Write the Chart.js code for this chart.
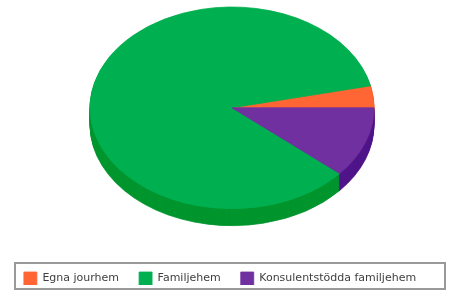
<!DOCTYPE html>
<html>
<head>
<meta charset="utf-8">
<script src="https://cdn.jsdelivr.net/npm/chart.js@4/dist/chart.umd.min.js"></script>
<style>
  html, body { margin: 0; padding: 0; background: #ffffff; }
  #wrap { width: 452px; height: 291px; position: relative; }
</style>
</head>
<body>
<div id="wrap"><canvas id="c" width="452" height="291"></canvas></div>
<script>
// ---- data ----
const categories = ["Egna jourhem", "Familjehem", "Konsulentstödda familjehem"];
const shares = [3.5, 85.2, 11.3];

// ---- styles ----
const topColors  = ["#ff6633", "#00b050", "#7030a0"];
const sideColors = ["#cc4d22", "#00952d", "#4f1489"];

const pie3d = {
  id: 'pie3d',
  beforeDatasetsDraw(chart, args, opts) {
    const meta = chart.getDatasetMeta(0);
    const a0 = meta.data[0];
    const R = a0.outerRadius;
    const sx = opts.radiusX / R, sy = sx * opts.tilt;
    const cx = a0.x + opts.offsetX, cy = chart.chartArea.top + opts.radiusX * opts.tilt;
    const ctx = chart.ctx;
    for (let d = opts.depth; d >= 1; d--) {
      ctx.save();
      ctx.translate(cx, cy + d);
      ctx.scale(-sx, sy);
      ctx.translate(-a0.x, -a0.y);
      meta.data.forEach((a, i) => {
        ctx.beginPath();
        ctx.moveTo(a.x, a.y);
        ctx.arc(a.x, a.y, a.outerRadius, a.startAngle, a.endAngle);
        ctx.closePath();
        ctx.fillStyle = sideColors[i];
        ctx.strokeStyle = sideColors[i];
        ctx.lineWidth = 0.8;
        ctx.fill();
        ctx.stroke();
      });
      ctx.restore();
    }
    ctx.save();
    ctx.translate(cx, cy);
    ctx.scale(-sx, sy);
    ctx.translate(-a0.x, -a0.y);
  },
  afterDatasetsDraw(chart) {
    chart.ctx.restore();
  },
  afterDraw(chart, args, opts) {
    const ctx = chart.ctx;
    const b = opts.legendBox;
    ctx.save();
    ctx.strokeStyle = "#999999";
    ctx.lineWidth = 2;
    ctx.strokeRect(b.x, b.y, b.w, b.h);
    ctx.restore();
  }
};

new Chart(document.getElementById('c'), {
  type: 'pie',
  data: {
    labels: categories,
    datasets: [{
      data: shares,
      backgroundColor: topColors,
      borderColor: topColors,
      borderWidth: 0.8
    }]
  },
  options: {
    responsive: false,
    animation: false,
    events: [],
    rotation: -90,
    layout: { padding: { left: 0, right: 12, top: 7, bottom: 6 } },
    plugins: {
      tooltip: { enabled: false },
      legend: {
        position: 'bottom',
        maxHeight: 33,
        labels: {
          boxWidth: 13,
          boxHeight: 13,
          padding: 20,
          color: '#404040',
          font: { family: 'DejaVu Sans', size: 11 }
        }
      },
      pie3d: {
        radiusX: 142,
        tilt: 0.71,
        depth: 17,
        offsetX: 12,
        legendBox: { x: 15, y: 263, w: 430, h: 26 }
      }
    }
  },
  plugins: [pie3d]
});
</script>
</body>
</html>
